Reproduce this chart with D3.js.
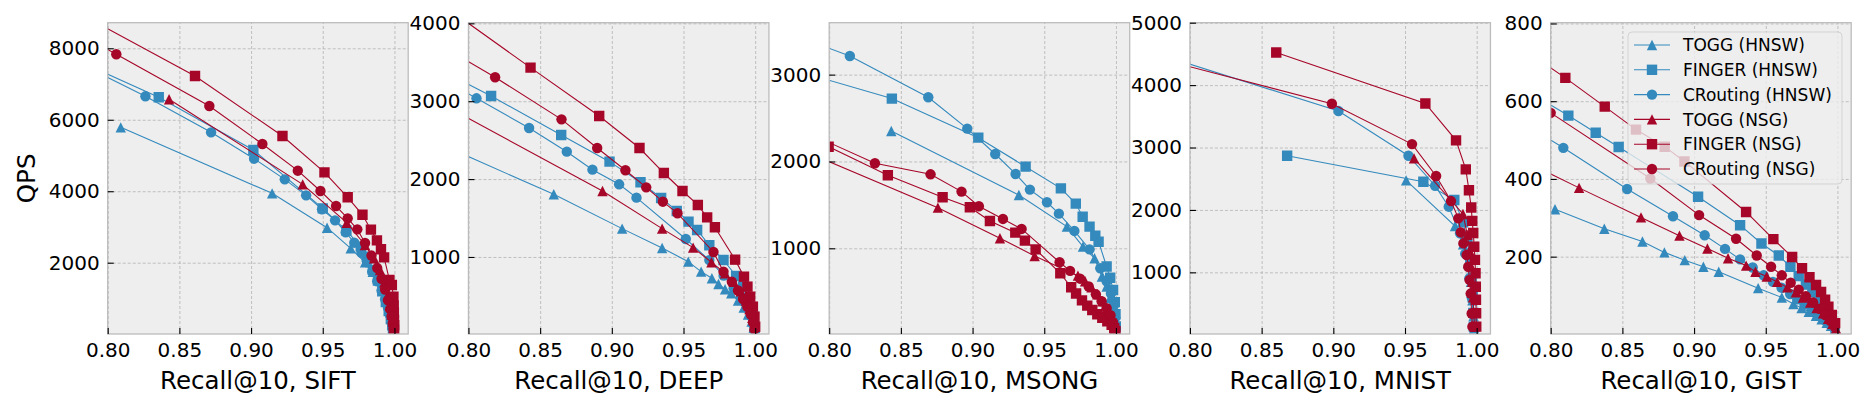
<!DOCTYPE html>
<html>
<head>
<meta charset="utf-8">
<script src="https://cdn.jsdelivr.net/npm/d3@7"></script>
<style>
  body { margin: 0; background: #fff; }
  text { font-family: "DejaVu Sans", sans-serif; }
</style>
</head>
<body>
<svg id="chart"></svg>
<script>
// recall@10 vs QPS, [recall, qps] pairs
var datasets = ["SIFT", "DEEP", "MSONG", "MNIST", "GIST"];
var seriesNames = ["TOGG (HNSW)", "FINGER (HNSW)", "CRouting (HNSW)", "TOGG (NSG)", "FINGER (NSG)", "CRouting (NSG)"];
var xTicks = [0.80, 0.85, 0.90, 0.95, 1.00];
var siftYTicks = [2000, 4000, 6000, 8000];
var deepYTicks = [1000, 2000, 3000, 4000];
var msongYTicks = [1000, 2000, 3000];
var mnistYTicks = [1000, 2000, 3000, 4000, 5000];
var gistYTicks = [200, 400, 600, 800];

var siftToggHnsw = [[0.8091,5788],[0.9147,3941],[0.953,2980],[0.9695,2401],[0.9795,2009],[0.9849,1748],[0.9888,1533],[0.9919,1347],[0.994,1150],[0.9958,920],[0.997,700],[0.998,480],[0.9987,300],[0.9992,150]];
var siftFingerHnsw = [[0.79,7460],[0.8356,6628],[0.9016,5154],[0.95,3521],[0.9665,2900],[0.9765,2450],[0.9807,2168],[0.985,1800],[0.9885,1500],[0.9915,1200],[0.994,900],[0.996,650],[0.9975,420],[0.9985,250],[0.999,120]];
var siftCroutingHnsw = [[0.79,7380],[0.8263,6656],[0.8721,5648],[0.9021,4911],[0.9235,4333],[0.9384,3885],[0.9495,3493],[0.9586,3185],[0.966,2850],[0.972,2560],[0.977,2280],[0.981,2010],[0.9845,1750],[0.988,1480],[0.991,1220],[0.9935,980],[0.9955,740],[0.997,520],[0.998,330],[0.9988,180]];
var siftToggNsg = [[0.8428,6572],[0.936,4193],[0.9667,3120],[0.9795,2495],[0.9858,2121],[0.99,1795],[0.993,1450],[0.9955,1100],[0.997,800],[0.998,550],[0.9988,350],[0.9993,180]];
var siftFingerNsg = [[0.79,8760],[0.8609,7225],[0.9219,5546],[0.9512,4529],[0.9674,3830],[0.9777,3340],[0.9836,2925],[0.9878,2625],[0.9906,2375],[0.9928,2150],[0.9965,1516],[0.9982,1376],[0.9993,1048],[0.9995,800],[0.9996,600],[0.9997,400],[0.9998,250],[0.9998,120]];
var siftCroutingNsg = [[0.79,8195],[0.806,7832],[0.8709,6386],[0.9079,5322],[0.9326,4575],[0.9484,4006],[0.9593,3586],[0.9674,3241],[0.9741,2934],[0.9795,2550],[0.984,2200],[0.988,1850],[0.991,1550],[0.9935,1250],[0.9955,950],[0.997,700],[0.998,500],[0.9988,300],[0.9993,150]];

var deepToggHnsw = [[0.79,2369],[0.8595,1805],[0.9072,1364],[0.9351,1116],[0.9533,940],[0.9623,812],[0.9698,726],[0.9744,653],[0.979,585],[0.9833,534],[0.988,440],[0.992,350],[0.995,260],[0.9975,170],[0.999,90]];
var deepFingerHnsw = [[0.79,3312],[0.8158,3067],[0.8647,2566],[0.8984,2224],[0.92,1959],[0.9344,1757],[0.9453,1591],[0.9535,1454],[0.9595,1347],[0.968,1150],[0.9779,961],[0.9867,756],[0.9915,620],[0.995,480],[0.9975,340],[0.999,200],[0.9997,90]];
var deepCroutingHnsw = [[0.79,3193],[0.8056,3037],[0.8423,2656],[0.8686,2352],[0.8865,2121],[0.9051,1933],[0.9172,1762],[0.9516,1231],[0.968,960],[0.978,760],[0.985,600],[0.99,470],[0.994,350],[0.997,240],[0.9985,140],[0.9995,60]];
var deepToggNsg = [[0.79,2880],[0.8935,1847],[0.9351,1364],[0.9567,1120],[0.9695,932],[0.979,790],[0.985,680],[0.99,560],[0.9935,440],[0.996,330],[0.998,220],[0.9993,110]];
var deepFingerNsg = [[0.79,4131],[0.8433,3431],[0.8912,2810],[0.9193,2399],[0.9363,2078],[0.9493,1847],[0.96,1668],[0.9665,1509],[0.9719,1381],[0.986,966],[0.9922,747],[0.9946,619],[0.9965,490],[0.9984,362],[0.9995,234],[1.0,105]];
var deepCroutingNsg = [[0.79,3616],[0.8186,3307],[0.8649,2767],[0.8898,2399],[0.9095,2113],[0.924,1894],[0.9356,1710],[0.9458,1561],[0.9709,1064],[0.9779,811],[0.9837,682],[0.988,570],[0.9915,460],[0.9945,360],[0.997,260],[0.9985,160],[0.9995,70]];

var msongToggHnsw = [[0.8433,2351],[0.9323,1614],[0.9658,1250],[0.977,1019],[0.9851,885],[0.9902,674],[0.9935,560],[0.996,430],[0.998,300],[0.9992,180],[0.9998,70]];
var msongFingerHnsw = [[0.79,2983],[0.8437,2724],[0.904,2274],[0.937,1940],[0.9616,1690],[0.972,1515],[0.9768,1364],[0.9816,1249],[0.9856,1145],[0.9879,1076],[0.9935,790],[0.996,660],[0.998,520],[0.9992,380],[0.9997,240],[0.9999,100]];
var msongCroutingHnsw = [[0.79,3364],[0.8144,3215],[0.8691,2739],[0.8963,2378],[0.9158,2086],[0.93,1856],[0.94,1676],[0.9519,1530],[0.9602,1399],[0.971,1200],[0.9816,988],[0.9891,770],[0.9935,620],[0.9965,480],[0.9985,340],[0.9995,200],[0.9999,80]];
var msongToggNsg = [[0.79,2068],[0.8758,1468],[0.9191,1115],[0.9433,912],[0.9735,685],[0.9785,620],[0.983,550],[0.987,470],[0.9905,390],[0.9935,310],[0.996,230],[0.998,150],[0.9993,70]];
var msongFingerNsg = [[0.7996,2170],[0.8409,1841],[0.8791,1587],[0.8981,1472],[0.9121,1315],[0.9298,1180],[0.9365,1088],[0.944,988],[0.9612,712],[0.9688,551],[0.9722,480],[0.9763,400],[0.98,340],[0.9835,290],[0.987,240],[0.9905,200],[0.994,160],[0.997,120],[0.9988,80],[0.9997,45]];
var msongCroutingNsg = [[0.79,2292],[0.8319,1979],[0.8707,1852],[0.8923,1653],[0.9044,1484],[0.9212,1338],[0.9342,1223],[0.9607,839],[0.968,740],[0.975,650],[0.981,560],[0.986,470],[0.99,390],[0.9935,310],[0.9962,230],[0.998,150],[0.9993,80]];

var mnistToggHnsw = [[0.9508,2473],[0.9849,1742],[0.9905,1450],[0.994,1150],[0.996,850],[0.997,550],[0.9978,300],[0.9982,100]];
var mnistFingerHnsw = [[0.8678,2868],[0.9628,2452],[0.9844,2158],[0.9905,1800],[0.9935,1500],[0.9955,1200],[0.9965,900],[0.9972,600],[0.9977,350],[0.998,130]];
var mnistCroutingHnsw = [[0.79,4409],[0.9036,3584],[0.9524,2868],[0.971,2388],[0.9805,2052],[0.9884,1625],[0.992,1300],[0.9949,904],[0.9965,600],[0.9975,350],[0.998,130]];
var mnistToggNsg = [[0.9563,2826],[0.9904,1935],[0.9935,1600],[0.995,1350],[0.996,1100],[0.9968,850],[0.9975,600],[0.998,350],[0.9985,130]];
var mnistFingerNsg = [[0.8602,4523],[0.9642,3706],[0.9856,3115],[0.9924,2650],[0.9946,2315],[0.9962,2040],[0.9969,1825],[0.9976,1630],[0.9983,1410],[0.9988,1200],[0.9992,985],[0.9994,770],[0.9995,560],[0.9996,345],[0.9997,130]];
var mnistCroutingNsg = [[0.79,4354],[0.899,3701],[0.9549,3055],[0.9717,2543],[0.9821,2142],[0.9872,1865],[0.9889,1641],[0.9907,1464],[0.993,1277],[0.9941,1090],[0.995,880],[0.9958,660],[0.9965,340],[0.997,130]];

var gistToggHnsw = [[0.803,322],[0.8374,272],[0.864,239],[0.8793,211],[0.8935,191],[0.9065,174],[0.9172,161],[0.9447,119],[0.9612,95],[0.9693,78],[0.975,68],[0.98,58],[0.985,48],[0.989,39],[0.9925,30],[0.9955,22],[0.998,13]];
var gistFingerHnsw = [[0.79,612],[0.8123,563],[0.8314,519],[0.8474,482],[0.9028,354],[0.9321,281],[0.947,234],[0.9591,203],[0.9672,174],[0.973,150],[0.978,128],[0.9825,108],[0.9865,88],[0.99,70],[0.993,52],[0.996,36],[0.998,22]];
var gistCroutingHnsw = [[0.79,523],[0.8088,480],[0.8533,374],[0.8853,304],[0.9074,255],[0.9216,220],[0.9321,193],[0.9409,172],[0.9485,152],[0.955,135],[0.961,120],[0.967,104],[0.972,90],[0.977,77],[0.982,64],[0.9865,50],[0.991,37],[0.995,25],[0.998,14]];
var gistToggNsg = [[0.79,431],[0.8198,377],[0.863,301],[0.8898,254],[0.9093,221],[0.9237,196],[0.9363,177],[0.9428,161],[0.9507,149],[0.958,135],[0.965,121],[0.971,108],[0.976,95],[0.981,82],[0.9855,68],[0.99,54],[0.9935,40],[0.9965,27],[0.999,15]];
var gistFingerNsg = [[0.79,711],[0.8102,660],[0.8377,586],[0.8595,527],[0.8795,483],[0.8933,445],[0.9363,315],[0.9553,245],[0.9684,199],[0.9753,170],[0.9805,147],[0.9851,127],[0.9886,109],[0.9914,89],[0.9937,71],[0.9961,50],[0.9984,29]];
var gistCroutingNsg = [[0.8,570],[0.8695,401],[0.9035,307],[0.9293,246],[0.9437,203],[0.9537,174],[0.9612,152],[0.9674,133],[0.973,115],[0.978,98],[0.983,82],[0.9875,66],[0.9915,50],[0.995,35],[0.998,20]];

var panels = [
  {name: "SIFT",  yDomain: [5, 8716],  yTicks: siftYTicks,  series: [siftToggHnsw, siftFingerHnsw, siftCroutingHnsw, siftToggNsg, siftFingerNsg, siftCroutingNsg]},
  {name: "DEEP",  yDomain: [11, 4008], yTicks: deepYTicks,  series: [deepToggHnsw, deepFingerHnsw, deepCroutingHnsw, deepToggNsg, deepFingerNsg, deepCroutingNsg]},
  {name: "MSONG", yDomain: [13, 3598], yTicks: msongYTicks, series: [msongToggHnsw, msongFingerHnsw, msongCroutingHnsw, msongToggNsg, msongFingerNsg, msongCroutingNsg]},
  {name: "MNIST", yDomain: [12, 5000], yTicks: mnistYTicks, series: [mnistToggHnsw, mnistFingerHnsw, mnistCroutingHnsw, mnistToggNsg, mnistFingerNsg, mnistCroutingNsg]},
  {name: "GIST",  yDomain: [1, 802],   yTicks: gistYTicks,  series: [gistToggHnsw, gistFingerHnsw, gistCroutingHnsw, gistToggNsg, gistFingerNsg, gistCroutingNsg]}
];

var blue = "#348ABD", red = "#A60628";
var colors = [blue, blue, blue, red, red, red];
var shapes = ["tri", "sq", "circ", "tri", "sq", "circ"];
var markerSize = 10.4;

var width = 1876, height = 410;
var plotTop = 22.7, plotH = 311.3, plotW = 300.5;
var firstLeft = 107.7, panelStep = 360.75;

var svg = d3.select("#chart").attr("width", width).attr("height", height);

// matplotlib-like marker outlines (width == height == s)
function markerPath(shape, s) {
  var h = s / 2;
  if (shape == "tri") return "M0," + (-h) + "L" + h + "," + h + "L" + (-h) + "," + h + "Z";
  if (shape == "sq") return "M" + (-h) + "," + (-h) + "H" + h + "V" + h + "H" + (-h) + "Z";
  return "M" + h + ",0A" + h + "," + h + " 0 1,1 " + (-h) + ",0A" + h + "," + h + " 0 1,1 " + h + ",0Z";
}

panels.forEach(function(p, i) {
  var left = firstLeft + i * panelStep;
  var x = d3.scaleLinear().domain([0.8, 1.0096]).range([left, left + plotW]);
  var y = d3.scaleLinear().domain(p.yDomain).range([plotTop + plotH, plotTop]);

  var g = svg.append("g");
  g.append("defs").append("clipPath").attr("id", "clip" + i)
    .append("rect").attr("x", left).attr("y", plotTop).attr("width", plotW).attr("height", plotH);

  g.append("rect").attr("x", left).attr("y", plotTop).attr("width", plotW).attr("height", plotH)
    .attr("fill", "#eeeeee");

  // grid
  var gx = g.append("g").attr("transform", "translate(0," + (plotTop + plotH) + ")")
    .call(d3.axisBottom(x).tickValues(xTicks).tickSize(-plotH).tickFormat(""));
  var gy = g.append("g").attr("transform", "translate(" + left + ",0)")
    .call(d3.axisLeft(y).tickValues(p.yTicks).tickSize(-plotW).tickFormat(""));
  [gx, gy].forEach(function(a) {
    a.select(".domain").remove();
    a.selectAll("line").attr("stroke", "#b2b2b2").attr("stroke-width", 0.8).attr("stroke-dasharray", "3,2");
  });

  var data = g.append("g").attr("clip-path", "url(#clip" + i + ")");
  var line = d3.line().x(function(d) { return x(d[0]); }).y(function(d) { return y(d[1]); });

  p.series.forEach(function(s, k) {
    data.append("path").datum(s).attr("d", line)
      .attr("fill", "none").attr("stroke", colors[k]).attr("stroke-width", 1.1);
    data.append("g").selectAll("path").data(s).enter().append("path")
      .attr("d", markerPath(shapes[k], markerSize))
      .attr("transform", function(d) { return "translate(" + x(d[0]) + "," + y(d[1]) + ")"; })
      .attr("fill", colors[k]);
  });

  // spines
  g.append("rect").attr("x", left).attr("y", plotTop).attr("width", plotW).attr("height", plotH)
    .attr("fill", "none").attr("stroke", "#bcbcbc").attr("stroke-width", 1.3);

  // axes with inward ticks
  var ax = g.append("g").attr("transform", "translate(0," + (plotTop + plotH) + ")")
    .call(d3.axisBottom(x).tickValues(xTicks).tickSize(-6).tickPadding(9).tickFormat(d3.format(".2f")));
  var ay = g.append("g").attr("transform", "translate(" + left + ",0)")
    .call(d3.axisLeft(y).tickValues(p.yTicks).tickSize(-6).tickPadding(8).tickFormat(d3.format("d")));
  [ax, ay].forEach(function(a) {
    a.select(".domain").remove();
    a.selectAll("line").attr("stroke", "#000").attr("stroke-width", 1.1);
    a.selectAll("text").attr("fill", "#000").style("font-size", "20px").style("font-family", "DejaVu Sans");
  });

  g.append("text").attr("x", left + plotW / 2).attr("y", 389)
    .attr("text-anchor", "middle").style("font-size", "24.5px")
    .text("Recall@10, " + p.name);

  if (i == 0) {
    g.append("text").attr("transform", "translate(35," + (plotTop + plotH / 2) + ") rotate(-90)")
      .attr("text-anchor", "middle").style("font-size", "24.5px").text("QPS");
  }
});

// legend on the last panel
var lg = svg.append("g");
lg.append("rect").attr("x", 1628).attr("y", 32).attr("width", 214).attr("height", 152)
  .attr("rx", 4).attr("fill", "#eeeeee").attr("fill-opacity", 0.8)
  .attr("stroke", "#cccccc").attr("stroke-opacity", 0.8).attr("stroke-width", 1);
seriesNames.forEach(function(name, k) {
  var cy = 45 + k * 24.8;
  lg.append("line").attr("x1", 1634).attr("x2", 1670).attr("y1", cy).attr("y2", cy)
    .attr("stroke", colors[k]).attr("stroke-width", 1.1);
  lg.append("path").attr("d", markerPath(shapes[k], markerSize))
    .attr("transform", "translate(1652," + cy + ")").attr("fill", colors[k]);
  lg.append("text").attr("x", 1683).attr("y", cy).attr("dy", "0.36em")
    .style("font-size", "17px").text(name);
});
</script>
</body>
</html>
